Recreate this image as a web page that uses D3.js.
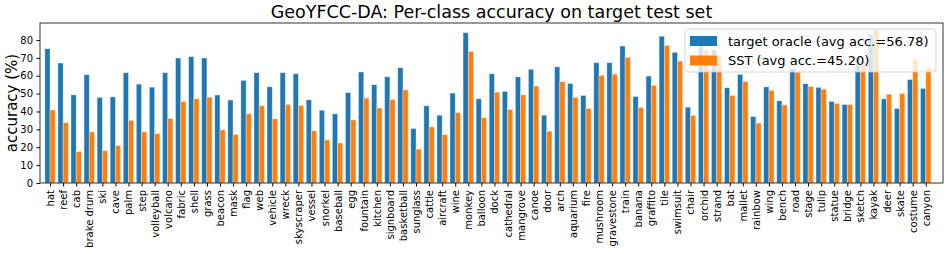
<!DOCTYPE html>
<html>
<head>
<meta charset="utf-8">
<script src="https://cdn.jsdelivr.net/npm/d3@7"></script>
<style>
  body { margin: 0; background: #fff; }
  svg { font-family: "DejaVu Sans", sans-serif; }
  .tick text { fill: #000; font-size: 10px; font-family: "DejaVu Sans", sans-serif; }
  .axis path, .axis line { stroke: #000; }
</style>
</head>
<body>
<svg width="951" height="254"></svg>
<script>
// classes, left to right
var classes = ["hat","reef","cab","brake drum","ski","cave","palm","step","volleyball","volcano",
  "fabric","shell","grass","beacon","mask","flag","web","vehicle","wreck","skyscraper",
  "vessel","snorkel","baseball","egg","fountain","kitchen","signboard","basketball","sunglass","cattle",
  "aircraft","wine","monkey","balloon","dock","cathedral","mangrove","canoe","door","arch",
  "aquarium","fire","mushroom","gravestone","train","banana","graffito","tile","swimsuit","chair",
  "orchid","strand","bat","mallet","rainbow","wing","bench","road","stage","tulip",
  "statue","bridge","sketch","kayak","deer","skate","costume","canyon"];

// target oracle accuracy (%)
var oracle = [75.1,67.1,49.3,60.6,47.9,48.2,61.7,55.3,53.6,61.7,
  69.9,70.7,69.9,49.2,46.4,57.4,61.7,53.8,61.7,61.1,
  46.5,40.7,38.7,50.6,62.1,55.0,59.4,64.5,30.5,43.2,
  37.9,50.3,84.1,47.1,61.1,51.2,59.4,63.6,37.9,65.0,
  55.7,49.0,67.3,67.3,76.6,48.4,59.8,82.1,73.1,42.4,
  76.6,74.4,53.3,60.7,37.2,53.8,46.0,64.0,55.5,53.5,
  45.6,43.9,70.0,83.0,47.1,41.7,57.9,52.9];

// SST accuracy (%)
var sst = [40.9,33.8,17.6,28.6,18.1,20.9,35.0,28.6,27.7,36.1,
  45.6,47.1,48.0,29.7,27.1,38.7,43.2,35.9,43.9,43.4,
  29.2,24.1,22.4,35.3,47.5,41.9,46.7,52.1,18.9,31.4,
  27.1,39.4,73.6,36.6,50.8,41.1,49.3,54.2,29.0,56.8,
  47.9,41.7,60.2,60.9,70.3,42.2,54.6,77.0,68.2,37.8,
  74.4,71.0,49.0,56.8,33.5,51.8,43.7,62.0,54.0,52.5,
  44.5,43.9,67.5,86.0,49.7,50.1,69.3,64.4];

var yTicks = [0,10,20,30,40,50,60,70,80];
var seriesNames = ["target oracle (avg acc.=56.78)", "SST (avg acc.=45.20)"];
var colors = ["#1f77b4", "#ff7f0e"];

var svg = d3.select("svg");
var margin = {left: 40, right: 8, top: 23, bottom: 71};
var width = 951 - margin.left - margin.right,
    height = 254 - margin.top - margin.bottom;

var g = svg.append("g").attr("transform", "translate(" + margin.left + "," + margin.top + ")");

var idx = classes.map(function(d, i) { return i; });
var x = d3.scaleLinear().domain([-0.77, 68.32]).range([0, width]);
var y = d3.scaleLinear().domain([0, 89.5]).range([height, 0]);
var bw = 0.4;

// bars
[oracle, sst].forEach(function(vals, s) {
  g.append("g").selectAll("rect")
    .data(vals)
    .enter().append("rect")
    .attr("x", function(d, i) { return x(i - bw + s * bw); })
    .attr("width", x(bw) - x(0))
    .attr("y", function(d) { return y(d); })
    .attr("height", function(d) { return height - y(d); })
    .attr("fill", colors[s])
    .attr("stroke", "rgba(255,255,255,0.45)")
    .attr("stroke-width", 0.8);
});

// axes
var xAxis = g.append("g")
  .attr("class", "axis")
  .attr("transform", "translate(0," + height + ")")
  .call(d3.axisBottom(x).tickValues(idx).tickFormat(function(i) { return classes[i]; })
        .tickSize(3.5).tickPadding(3.5));
xAxis.select(".domain").remove();
xAxis.selectAll("text")
  .attr("transform", "rotate(-90)")
  .attr("x", -7)
  .attr("y", 0)
  .attr("dy", "0.35em")
  .style("text-anchor", "end");

var yAxis = g.append("g")
  .attr("class", "axis")
  .call(d3.axisLeft(y).tickValues(yTicks).tickSize(3.5).tickPadding(3.5));
yAxis.select(".domain").remove();

// frame
g.append("rect")
  .attr("width", width).attr("height", height)
  .attr("fill", "none").attr("stroke", "#000").attr("stroke-width", 0.8);

// title & y label
svg.append("text")
  .attr("x", margin.left + width / 2)
  .attr("y", 18)
  .attr("text-anchor", "middle")
  .style("font-size", "17.5px")
  .text("GeoYFCC-DA: Per-class accuracy on target test set");

svg.append("text")
  .attr("transform", "translate(16.5," + (margin.top + height / 2) + ") rotate(-90)")
  .attr("text-anchor", "middle")
  .style("font-size", "15px")
  .text("accuracy (%)");

// legend
var lg = svg.append("g").attr("transform", "translate(685,29)");
lg.append("rect")
  .attr("width", 251).attr("height", 43).attr("rx", 3)
  .attr("fill", "rgba(255,255,255,0.8)")
  .attr("stroke", "#ccc").attr("stroke-width", 0.8);
seriesNames.forEach(function(name, s) {
  var row = lg.append("g").attr("transform", "translate(5," + (7 + s * 19.5) + ")");
  row.append("rect").attr("width", 27).attr("height", 10).attr("fill", colors[s]);
  row.append("text")
    .attr("x", 38).attr("y", 5).attr("dy", "0.35em")
    .style("font-size", "13px")
    .text(name);
});
</script>
</body>
</html>
